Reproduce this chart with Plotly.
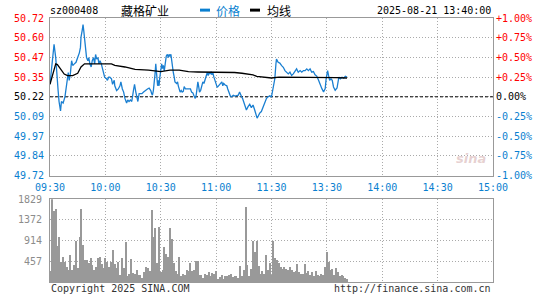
import plotly.graph_objects as go

# ---------------- data ----------------
code = "sz000408"
name = "藏格矿业"
stamp = "2025-08-21 13:40:00"
prev_close = 50.22

time_labels = ["09:30", "10:00", "10:30", "11:00", "11:30", "13:30", "14:00", "14:30", "15:00"]
time_ticks = [0, 30, 60, 90, 120, 150, 180, 210, 240]

price_ticktext = ["49.72", "49.84", "49.97", "50.09", "50.22", "50.35", "50.47", "50.60", "50.72"]
pct_ticktext = ["-1.00%", "-0.75%", "-0.50%", "-0.25%", "0.00%", "+0.25%", "+0.50%", "+0.75%", "+1.00%"]
pct_levels = [-1.0, -0.75, -0.5, -0.25, 0.0, 0.25, 0.5, 0.75, 1.0]

price_min = [0, 2.2, 3.1, 3.8, 4.4, 4.9, 5.7, 6.2, 7.1, 8.1, 8.6, 9.3, 9.9, 10.4, 11.0, 11.7, 12.3, 13.2,
             14.1, 15.0, 15.9, 16.5, 16.8, 17.4, 17.9, 18.3, 18.7, 19.2, 19.8, 20.5, 21.0, 21.6, 22.3, 22.9,
             23.6, 24.2, 24.7, 25.3, 26.0, 26.5, 27.1, 27.8, 28.7, 29.6, 30.6, 31.1, 31.8, 32.4, 33.3, 33.9,
             34.8, 35.1, 36.1, 37.0, 37.9, 38.4, 39.2, 39.9, 40.6, 41.5, 42.1, 42.8, 43.6, 44.3, 45.2, 45.8,
             46.5, 47.0, 47.6, 48.3, 49.8, 50.7, 51.6, 52.8, 53.7, 54.6, 55.1, 55.5, 56.0, 56.6, 56.9, 57.3,
             57.8, 58.3, 58.7, 59.1, 59.4, 60.0, 60.5, 60.9, 61.4, 61.9, 62.3, 62.7, 63.0, 63.6, 64.1, 64.5,
             65.0, 65.5, 65.9, 66.2, 66.8, 67.3, 67.7, 68.6, 69.1, 69.5, 70.0, 70.5, 71.1, 71.6, 72.2, 72.7,
             73.4, 74.3, 75.2, 76.1, 76.7, 77.4, 77.9, 78.4, 78.7, 79.2, 79.8, 80.1, 80.5, 81.0, 81.6, 82.3,
             82.8, 83.4, 84.1, 84.6, 85.2, 85.7, 86.2, 86.8, 87.3, 87.7, 88.2, 88.8, 89.5, 90.0, 90.6, 91.3,
             92.2, 93.1, 93.6, 94.1, 94.9, 95.8, 96.3, 97.0, 97.7, 98.4, 99.3, 100.2, 101.1, 102.0, 102.7,
             103.2, 103.8, 104.3, 104.9, 105.5, 106.4, 107.3, 108.2, 109.1, 110.0, 110.9, 111.5, 112.2,
             112.7, 113.6, 114.5, 115.5, 116.4, 117.3, 118.2, 119.1, 120.0, 120.9, 121.8, 122.4, 122.7,
             123.6, 124.5, 125.5, 126.4, 127.3, 128.2, 129.1, 130.0, 130.9, 131.8, 132.7, 133.6, 134.5,
             135.5, 136.4, 137.3, 138.2, 139.1, 140.0, 140.9, 141.8, 142.7, 143.6, 144.5, 145.5, 146.4,
             147.3, 148.2, 149.1, 149.6, 150.4, 150.9, 151.5, 152.2, 152.9, 153.6, 154.5, 155.5, 156.0,
             156.5, 157.3, 158.2, 159.1, 160.0, 160.9]
price = [50.30, 50.555, 50.47, 50.325, 50.26, 50.19, 50.13, 50.19, 50.18, 50.22, 50.26, 50.335, 50.375,
         50.325, 50.365, 50.45, 50.42, 50.43, 50.44, 50.47, 50.50, 50.535, 50.60, 50.64, 50.68, 50.64,
         50.60, 50.535, 50.47, 50.45, 50.47, 50.43, 50.41, 50.45, 50.47, 50.43, 50.49, 50.46, 50.47,
         50.43, 50.45, 50.43, 50.385, 50.345, 50.335, 50.325, 50.345, 50.345, 50.335, 50.30, 50.325,
         50.29, 50.26, 50.27, 50.29, 50.315, 50.27, 50.25, 50.21, 50.18, 50.20, 50.19, 50.20, 50.19,
         50.26, 50.30, 50.25, 50.22, 50.19, 50.24, 50.24, 50.25, 50.26, 50.27, 50.275, 50.26, 50.24,
         50.23, 50.26, 50.31, 50.365, 50.43, 50.375, 50.29, 50.325, 50.29, 50.335, 50.385, 50.43, 50.40,
         50.42, 50.385, 50.44, 50.46, 50.48, 50.49, 50.47, 50.49, 50.48, 50.49, 50.45, 50.41, 50.375,
         50.345, 50.315, 50.305, 50.315, 50.29, 50.26, 50.25, 50.26, 50.25, 50.255, 50.285, 50.27, 50.27,
         50.27, 50.27, 50.25, 50.245, 50.23, 50.215, 50.21, 50.23, 50.27, 50.315, 50.29, 50.25, 50.26,
         50.29, 50.315, 50.305, 50.335, 50.365, 50.375, 50.355, 50.375, 50.365, 50.38, 50.36, 50.375,
         50.345, 50.315, 50.29, 50.28, 50.29, 50.305, 50.315, 50.29, 50.305, 50.295, 50.29, 50.27, 50.25,
         50.225, 50.22, 50.23, 50.225, 50.23, 50.23, 50.25, 50.23, 50.22, 50.21, 50.19, 50.16, 50.136,
         50.157, 50.172, 50.151, 50.168, 50.136, 50.105, 50.084, 50.095, 50.116, 50.126, 50.157, 50.178,
         50.21, 50.22, 50.226, 50.22, 50.293, 50.335, 50.429, 50.46, 50.44, 50.435, 50.419, 50.408,
         50.387, 50.377, 50.366, 50.377, 50.356, 50.366, 50.387, 50.398, 50.377, 50.387, 50.377, 50.387,
         50.387, 50.398, 50.387, 50.398, 50.377, 50.381, 50.36, 50.352, 50.325, 50.293, 50.272, 50.251,
         50.272, 50.335, 50.387, 50.356, 50.325, 50.335, 50.325, 50.283, 50.262, 50.276, 50.325, 50.345,
         50.335, 50.345, 50.339, 50.35, 50.345]

avg_min = [0, 1.8, 3.1, 4.0, 5.9, 7.7, 9.5, 12.3, 15.0, 16.8, 18.7, 33.3, 35.1, 40.6, 46.1, 53.4, 60, 65,
           70, 75, 80, 90, 100, 104, 107, 110, 112, 116, 120, 124, 150, 155, 160.9]
avg_price = [50.30, 50.38, 50.43, 50.425, 50.39, 50.365, 50.355, 50.355, 50.37, 50.41, 50.43, 50.43,
             50.42, 50.41, 50.395, 50.39, 50.38, 50.39, 50.39, 50.38, 50.378, 50.377, 50.375, 50.37,
             50.365, 50.36, 50.35, 50.345, 50.34, 50.345, 50.345, 50.342, 50.34]

volume = [229, 1829, 1570, 1613, 781, 982, 444, 552, 444, 337, 265, 588, 265, 373, 910, 301, 997, 1613,
          803, 480, 480, 423, 530, 373, 265, 323, 530, 552, 394, 301, 516, 430, 337, 444, 695, 394, 301,
          444, 158, 516, 301, 875, 122, 179, 495, 194, 179, 265, 158, 158, 86, 208, 337, 301, 229, 1592,
          982, 1197, 409, 1212, 208, 265, 767, 624, 552, 1197, 946, 409, 229, 179, 538, 136, 179, 158,
          265, 229, 423, 229, 265, 466, 466, 150, 158, 86, 179, 158, 208, 122, 194, 179, 229, 65, 108,
          158, 65, 122, 136, 158, 179, 108, 136, 122, 86, 351, 122, 265, 1663, 373, 122, 280, 910, 660,
          910, 351, 179, 229, 179, 588, 265, 409, 158, 910, 516, 480, 409, 337, 280, 337, 280, 265, 323,
          265, 208, 229, 394, 208, 179, 179, 394, 194, 229, 158, 208, 136, 229, 158, 122, 179, 158, 337,
          660, 444, 265, 280, 158, 301, 208, 122, 158, 136, 86, 50]
vol_min = list(range(len(volume)))
vol_ticks = [457, 914, 1372, 1829]
vol_ticktext = ["457", "914", "1372", "1829"]

# ---------------- styling ----------------
W, H = 545, 300
L, R, T, B = 50, 52, 18, 14
PW, PH = W - L - R, H - T - B

def px(x):
    return (x - L) / PW

def py(y):
    return (H - B - y) / PH

BLUE = "#1a7fd1"
LBLUE = "#0a7fd0"
RED = "#ff0000"
GRAY = "#999999"
GRID = "#aaaaaa"
MONO = "DejaVu Sans Mono"
CJK = "Noto Sans CJK SC"

def colored(labels, levels):
    out = []
    for lab, lv in zip(labels, levels):
        c = RED if lv > 0 else ("#000000" if lv == 0 else LBLUE)
        out.append(f"<span style='color:{c}'>{lab}</span>")
    return out

lo = prev_close * (1 - 0.01)
hi = prev_close * (1 + 0.01)
price_tickvals = [prev_close * (1 + lv / 100) for lv in pct_levels]

fig = go.Figure()

fig.add_trace(go.Scatter(x=[0, 240], y=[prev_close, prev_close], mode="lines",
                         line=dict(color="#000000", width=1, dash="3px,2px"),
                         xaxis="x", yaxis="y", hoverinfo="skip"))
fig.add_trace(go.Scatter(x=price_min, y=price, mode="lines",
                         line=dict(color=BLUE, width=1.3), xaxis="x", yaxis="y"))
fig.add_trace(go.Scatter(x=avg_min, y=avg_price, mode="lines",
                         line=dict(color="#000000", width=1.3), xaxis="x", yaxis="y"))
fig.add_trace(go.Bar(x=vol_min, y=volume, width=0.54,
                     marker=dict(color="#999999", line=dict(width=0)), xaxis="x2", yaxis="y2"))

axis_common = dict(showline=True, mirror=True, linecolor=GRAY, linewidth=1,
                   showgrid=True, gridcolor=GRID, gridwidth=1, griddash="1px,2px",
                   zeroline=False, ticks="", fixedrange=True)

fig.update_layout(
    width=W, height=H, margin=dict(l=L, r=R, t=T, b=B),
    paper_bgcolor="white", plot_bgcolor="white", showlegend=False,
    font=dict(family=MONO, size=10, color="#000000"),
    bargap=0,
    xaxis=dict(domain=[0, 1], anchor="y", range=[0, 240], tickmode="array",
               tickvals=time_ticks, ticktext=time_labels,
               tickfont=dict(family=MONO, size=10, color=LBLUE), ticklabelstandoff=2,
               **axis_common),
    yaxis=dict(domain=[py(178), 1], anchor="x", range=[lo, hi], tickmode="array",
               tickvals=price_tickvals, ticktext=colored(price_ticktext, pct_levels),
               tickfont=dict(family=MONO, size=10), ticklabelstandoff=3,
               **axis_common),
    yaxis3=dict(overlaying="y", side="right", anchor="x", range=[-1, 1], tickmode="array",
                tickvals=pct_levels, ticktext=colored(pct_ticktext, pct_levels),
                tickfont=dict(family=MONO, size=10), ticklabelstandoff=2,
                showgrid=False, showline=False, zeroline=False, ticks="", fixedrange=True),
    xaxis2=dict(domain=[0, 1], anchor="y2", range=[0, 240], tickmode="array",
                tickvals=time_ticks, showticklabels=False, **axis_common),
    yaxis2=dict(domain=[0, py(202)], anchor="x2", range=[0, 1829], tickmode="array",
                tickvals=vol_ticks, ticktext=vol_ticktext,
                tickfont=dict(family=MONO, size=10, color="#8c8c8c"), ticklabelstandoff=5,
                **axis_common),
)

# invisible trace so the right-hand percent axis is drawn
fig.add_trace(go.Scatter(x=[0], y=[0], mode="markers", marker=dict(opacity=0),
                         xaxis="x", yaxis="y3", hoverinfo="skip"))

ann = []
def txt(x, y, s, color="#000000", size=10, family=MONO, xanchor="left"):
    ann.append(dict(x=px(x), y=py(y), xref="paper", yref="paper", text=s, showarrow=False,
                    xanchor=xanchor, yanchor="middle",
                    font=dict(family=family, size=size, color=color)))

txt(48, 10, code)
txt(119, 10, name, size=12, family=CJK)
txt(214, 10, "价格", color=LBLUE, size=12, family=CJK)
txt(265, 10, "均线", size=12, family=CJK)
txt(493, 10, stamp, xanchor="right")
txt(49, 293, "Copyright 2025 SINA.COM", color="#333333")
txt(493, 293, "http://finance.sina.com.cn", color="#333333", xanchor="right")
txt(488, 161, "<b><i>sina</i></b>", color="rgba(200,150,150,0.45)", size=13,
    family="DejaVu Sans", xanchor="right")

shapes = [
    dict(type="rect", xref="paper", yref="paper", x0=px(200), x1=px(210), y0=py(8.5), y1=py(11.5),
         fillcolor=LBLUE, line=dict(width=0)),
    dict(type="rect", xref="paper", yref="paper", x0=px(250), x1=px(260), y0=py(8.5), y1=py(11.5),
         fillcolor="#000000", line=dict(width=0)),
]
fig.update_layout(annotations=ann, shapes=shapes)

fig.write_html("out.html")
